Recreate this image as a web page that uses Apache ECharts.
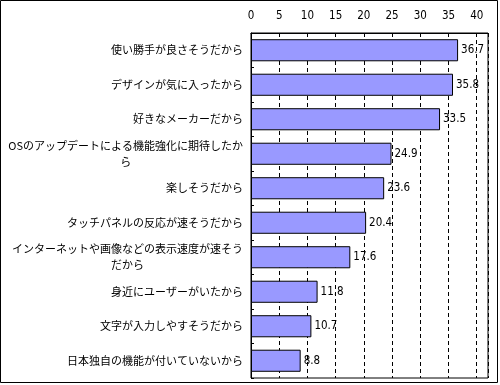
<!DOCTYPE html>
<html><head><meta charset="utf-8">
<script src="https://cdn.jsdelivr.net/npm/echarts@6/dist/echarts.min.js"></script>
<style>html,body{margin:0;padding:0;background:#fff}#c{width:500px;height:385px}</style>
</head><body><div id="c"></div>
<script>
var categories = [
  '使い勝手が良さそうだから',
  'デザインが気に入ったから',
  '好きなメーカーだから',
  'OSのアップデートによる機能強化に期待したか\nら',
  '楽しそうだから',
  'タッチパネルの反応が速そうだから',
  'インターネットや画像などの表示速度が速そう\nだから',
  '身近にユーザーがいたから',
  '文字が入力しやすそうだから',
  '日本独自の機能が付いていないから'
];
var values = [36.7, 35.8, 33.5, 24.9, 23.6, 20.4, 17.6, 11.8, 10.7, 8.8];
var tickMin = 0, tickMax = 42, tickStep = 5;

var numFont = '"Liberation Sans Narrow","DejaVu Sans Condensed","Liberation Sans",sans-serif';
var jpFont = '"Noto Sans CJK JP",sans-serif';
var chart = echarts.init(document.getElementById('c'), null, {renderer: 'canvas'});
chart.setOption({
  animation: false,
  backgroundColor: '#fff',
  graphic: [{
    type: 'rect', silent: true, z: 100,
    shape: {x: 0.5, y: 0.5, width: 497, height: 382},
    style: {fill: 'none', stroke: '#000', lineWidth: 1}
  }],
  grid: {left: 251, right: 12, top: 33, bottom: 7, show: true, borderColor: '#000', borderWidth: 1, containLabel: false},
  xAxis: {
    type: 'value', position: 'top', min: tickMin, max: tickMax, interval: tickStep,
    axisLine: {show: true, lineStyle: {color: '#000'}},
    axisTick: {show: true, inside: true, length: 4, lineStyle: {color: '#000'}},
    axisLabel: {color: '#000', fontSize: 11.5, fontFamily: numFont, margin: 11,
      showMaxLabel: false,
      formatter: function (v) { return v > 40 ? '' : String(v); }},
    splitLine: {show: true, lineStyle: {color: '#000', type: [4, 3], width: 1}}
  },
  yAxis: {
    type: 'category', inverse: true, data: categories,
    axisLine: {show: true, lineStyle: {color: '#000'}},
    axisTick: {show: true, inside: true, length: 3, lineStyle: {color: '#000'}},
    axisLabel: {
      color: '#000', fontSize: 11, fontFamily: jpFont, margin: 8, lineHeight: 16, interval: 0,
      formatter: function (v) { return v.split('\n').map(function (s) { return '{c|' + s + '}'; }).join('\n'); },
      rich: {c: {align: 'center', fontSize: 11, fontFamily: jpFont, color: '#000', lineHeight: 16}}
    },
    splitLine: {show: false}
  },
  series: [{
    type: 'bar', data: values, barCategoryGap: '36%',
    itemStyle: {color: '#9999FF', borderColor: '#000', borderWidth: 1},
    label: {show: true, position: 'right', distance: 3, color: '#000', fontSize: 11.5, fontFamily: numFont,
      formatter: function (p) { return p.value.toFixed(1); }}
  }]
});
</script></body></html>
